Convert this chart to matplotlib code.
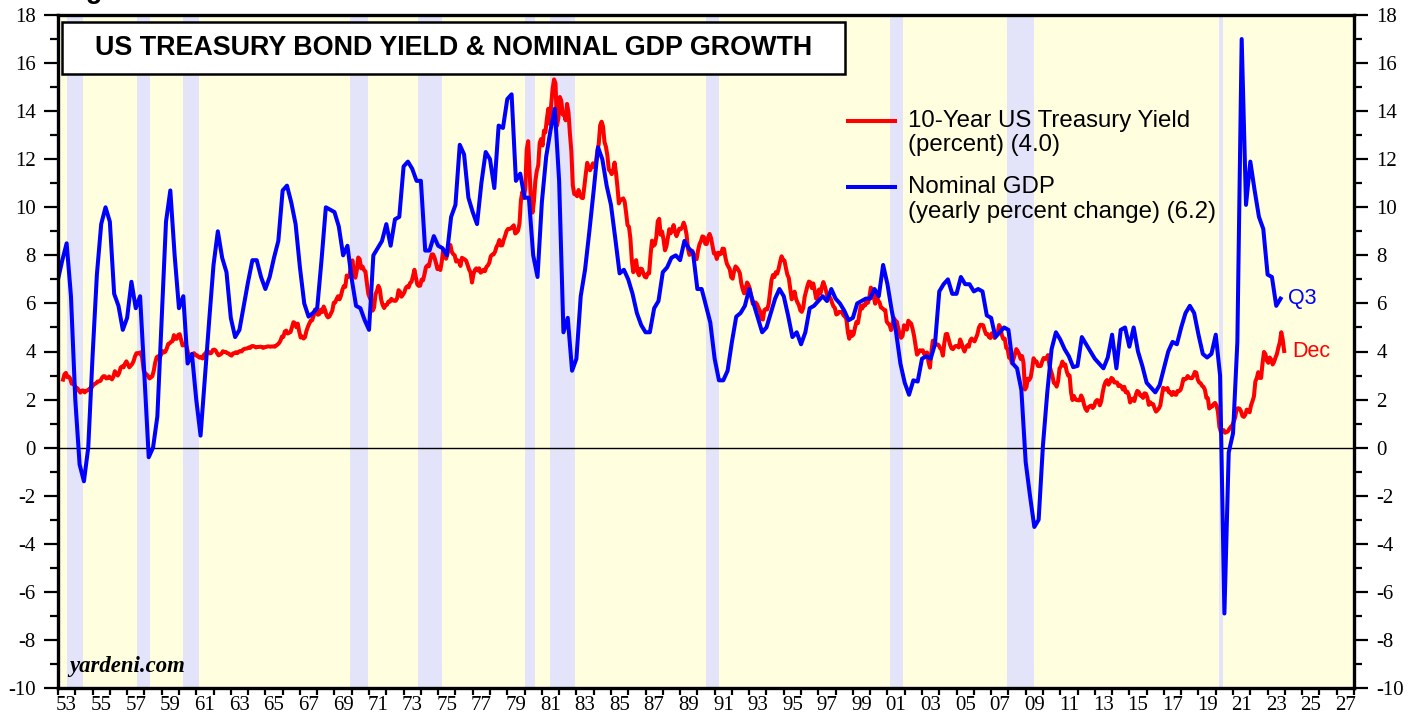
import numpy as np
import matplotlib
matplotlib.use('Agg')
import matplotlib.pyplot as plt
from matplotlib.patches import Rectangle
from matplotlib.ticker import FixedLocator, FixedFormatter

plt.rcParams['axes.unicode_minus'] = False

# ---------------- data ----------------
# Nominal GDP, yearly % change, quarterly; first value = 1952Q4 (plotted at quarter end)
gdp_first_quarter_end = 1953.0
gdp_yoy = [
    7.0,
    7.8, 8.5, 6.3, 2.0,      # 1953
    -0.7, -1.4, 0.0, 3.8,    # 1954
    7.2, 9.3, 10.0, 9.4,     # 1955
    6.4, 5.9, 4.9, 5.4,      # 1956
    6.9, 5.8, 6.3, 3.0,      # 1957
    -0.4, 0.0, 1.3, 5.3,     # 1958
    9.4, 10.7, 8.0, 5.8,     # 1959
    6.3, 3.5, 3.9, 2.0,      # 1960
    0.5, 2.9, 5.3, 7.6,      # 1961
    9.0, 7.9, 7.3, 5.4,      # 1962
    4.6, 4.9, 5.9, 6.9,      # 1963
    7.8, 7.8, 7.1, 6.6,      # 1964
    7.1, 7.9, 8.6, 10.7,     # 1965
    10.9, 10.2, 9.3, 7.5,    # 1966
    6.0, 5.45, 5.6, 5.8,     # 1967
    7.8, 10.0, 9.9, 9.8,     # 1968
    9.2, 8.0, 8.4, 7.0,      # 1969
    5.9, 5.8, 5.3, 4.9,      # 1970
    8.0, 8.3, 8.6, 9.3,      # 1971
    8.4, 9.5, 9.6, 11.7,     # 1972
    11.9, 11.6, 11.1, 11.1,  # 1973
    8.2, 8.2, 8.8, 8.4,      # 1974
    8.3, 8.0, 9.6, 10.1,     # 1975
    12.6, 12.2, 10.4, 9.8,   # 1976
    9.3, 11.0, 12.3, 12.0,   # 1977
    10.8, 13.4, 13.3, 14.5,  # 1978
    14.7, 11.1, 11.4, 10.4,  # 1979
    10.4, 8.0, 7.1, 10.2,    # 1980
    12.1, 13.2, 14.1, 11.1,  # 1981
    4.8, 5.4, 3.2, 3.7,      # 1982
    6.3, 7.4, 9.0, 10.7,     # 1983
    12.5, 12.0, 10.9, 10.1,  # 1984
    8.7, 7.25, 7.4, 7.0,     # 1985
    6.4, 5.6, 5.1, 4.8,      # 1986
    4.8, 5.8, 6.1, 7.3,      # 1987
    7.5, 7.9, 8.0, 7.8,      # 1988
    8.6, 8.3, 8.1, 6.6,      # 1989
    6.6, 5.9, 5.2, 3.7,      # 1990
    2.8, 2.8, 3.2, 4.4,      # 1991
    5.45, 5.6, 5.9, 6.6,     # 1992
    6.0, 5.4, 4.8, 5.0,      # 1993
    5.6, 6.2, 6.6, 6.3,      # 1994
    5.5, 4.6, 4.8, 4.3,      # 1995
    4.8, 5.8, 5.9, 6.1,      # 1996
    6.3, 6.1, 6.6, 6.2,      # 1997
    6.0, 5.7, 5.3, 5.4,      # 1998
    6.0, 6.1, 6.2, 6.2,      # 1999
    6.6, 6.3, 7.6, 6.8,      # 2000
    5.7, 4.8, 3.5, 2.7,      # 2001
    2.2, 2.8, 2.75, 3.7,     # 2002
    3.8, 3.7, 4.3, 6.5,      # 2003
    6.8, 7.0, 6.4, 6.4,      # 2004
    7.1, 6.8, 6.8, 6.5,      # 2005
    6.6, 6.5, 5.5, 5.4,      # 2006
    4.6, 4.8, 5.0, 4.9,      # 2007
    3.5, 3.3, 2.4, -0.6,     # 2008
    -2.0, -3.3, -3.0, 0.1,   # 2009
    2.3, 4.1, 4.8, 4.5,      # 2010
    4.1, 3.8, 3.35, 3.4,     # 2011
    4.6, 4.3, 4.0, 3.7,      # 2012
    3.5, 3.3, 3.75, 4.7,     # 2013
    3.3, 4.9, 5.0, 4.2,      # 2014
    5.0, 4.0, 3.4, 2.7,      # 2015
    2.5, 2.3, 2.6, 3.3,      # 2016
    4.0, 4.4, 4.3, 5.0,      # 2017
    5.6, 5.9, 5.6, 4.7,      # 2018
    3.9, 3.75, 3.9, 4.7,     # 2019
    3.0, -6.9, -0.2, 0.6,    # 2020
    4.4, 17.0, 10.1, 11.9,   # 2021
    10.7, 9.6, 9.1, 7.2,     # 2022
    7.1, 5.9, 6.2,           # 2023
]

# 10-Year US Treasury yield, monthly, from April 1953 to December 2023
yield_first_year, yield_first_month = 1953, 4
yield_10y = [
    2.83, 3.05, 3.11, 2.93, 2.95, 2.87, 2.66, 2.68, 2.59,
    2.48, 2.47, 2.37, 2.29, 2.37, 2.38, 2.30, 2.36, 2.38, 2.43, 2.48, 2.51,
    2.61, 2.65, 2.68, 2.75, 2.76, 2.78, 2.90, 2.97, 2.97, 2.88, 2.89, 2.96,
    2.90, 2.84, 2.96, 3.18, 3.07, 3.00, 3.11, 3.33, 3.38, 3.34, 3.49, 3.59,
    3.46, 3.34, 3.41, 3.48, 3.60, 3.80, 3.93, 3.93, 3.92, 3.97, 3.72, 3.21,
    3.09, 3.05, 2.98, 2.88, 2.92, 2.97, 3.20, 3.54, 3.76, 3.80, 3.74, 3.86,
    4.02, 3.96, 3.99, 4.12, 4.31, 4.34, 4.40, 4.43, 4.68, 4.53, 4.53, 4.69,
    4.72, 4.49, 4.25, 4.28, 4.35, 4.15, 3.90, 3.80, 3.80, 3.89, 3.93, 3.84,
    3.84, 3.78, 3.74, 3.78, 3.71, 3.88, 3.92, 4.04, 3.98, 3.92, 3.94, 4.06,
    4.08, 4.04, 3.93, 3.84, 3.87, 3.91, 4.01, 3.98, 3.98, 3.93, 3.92, 3.86,
    3.83, 3.92, 3.93, 3.97, 3.93, 3.99, 4.02, 4.00, 4.08, 4.11, 4.12, 4.13,
    4.17, 4.15, 4.22, 4.23, 4.20, 4.17, 4.19, 4.19, 4.20, 4.19, 4.15, 4.18,
    4.19, 4.21, 4.21, 4.20, 4.21, 4.21, 4.20, 4.25, 4.29, 4.35, 4.45, 4.62,
    4.61, 4.83, 4.87, 4.75, 4.78, 4.81, 5.02, 5.22, 5.18, 5.01, 5.16, 4.84,
    4.58, 4.63, 4.54, 4.59, 4.85, 5.02, 5.16, 5.28, 5.30, 5.48, 5.75, 5.70,
    5.53, 5.56, 5.74, 5.64, 5.87, 5.72, 5.50, 5.42, 5.46, 5.58, 5.70, 6.03,
    6.04, 6.19, 6.30, 6.17, 6.32, 6.57, 6.72, 6.69, 7.16, 7.10, 7.14, 7.65,
    7.79, 7.24, 7.07, 7.39, 7.91, 7.84, 7.46, 7.53, 7.39, 7.33, 6.84, 6.39,
    6.24, 6.11, 5.70, 5.83, 6.39, 6.52, 6.73, 6.58, 6.14, 5.93, 5.81, 5.93,
    5.95, 6.08, 6.07, 6.19, 6.13, 6.11, 6.11, 6.21, 6.55, 6.48, 6.28, 6.36,
    6.46, 6.64, 6.71, 6.67, 6.85, 6.90, 7.13, 7.40, 7.09, 6.79, 6.73, 6.74,
    6.99, 6.96, 7.21, 7.51, 7.58, 7.54, 7.81, 8.04, 8.04, 7.90, 7.68, 7.43,
    7.50, 7.39, 7.73, 8.23, 8.06, 7.86, 8.06, 8.40, 8.43, 8.14, 8.05, 8.00,
    7.74, 7.79, 7.73, 7.56, 7.90, 7.86, 7.83, 7.77, 7.59, 7.41, 7.29, 6.87,
    7.21, 7.39, 7.46, 7.37, 7.46, 7.28, 7.33, 7.40, 7.34, 7.52, 7.58, 7.69,
    7.96, 8.03, 8.04, 8.15, 8.35, 8.46, 8.64, 8.41, 8.42, 8.64, 8.81, 9.01,
    9.10, 9.10, 9.12, 9.18, 9.25, 8.91, 8.95, 9.03, 9.33, 10.30, 10.65, 10.39,
    10.80, 12.41, 12.75, 11.47, 10.18, 9.78, 10.25, 11.10, 11.51, 11.75, 12.68, 12.84,
    12.57, 13.19, 13.12, 13.68, 14.10, 13.47, 14.28, 14.94, 15.32, 15.15, 13.39, 13.72,
    14.59, 14.43, 13.86, 13.87, 13.62, 14.30, 13.95, 13.06, 12.34, 10.91, 10.55, 10.54,
    10.46, 10.72, 10.51, 10.40, 10.38, 10.85, 11.38, 11.85, 11.65, 11.54, 11.69, 11.83,
    11.67, 11.84, 12.32, 12.63, 13.41, 13.56, 13.36, 12.72, 12.52, 12.16, 11.57, 11.50,
    11.38, 11.51, 11.86, 11.43, 10.85, 10.16, 10.31, 10.33, 10.37, 10.24, 9.78, 9.26,
    9.19, 8.70, 7.78, 7.30, 7.71, 7.80, 7.30, 7.17, 7.45, 7.43, 7.25, 7.11,
    7.08, 7.25, 7.25, 8.02, 8.61, 8.40, 8.45, 8.76, 9.42, 9.52, 8.86, 8.99,
    8.67, 8.21, 8.37, 8.72, 9.09, 8.92, 9.06, 9.26, 8.98, 8.80, 8.96, 9.11,
    9.09, 9.17, 9.36, 9.18, 8.86, 8.28, 8.02, 8.11, 8.19, 8.01, 7.87, 7.84,
    8.21, 8.47, 8.59, 8.79, 8.76, 8.48, 8.47, 8.75, 8.89, 8.72, 8.39, 8.08,
    8.09, 7.85, 8.11, 8.04, 8.07, 8.28, 8.27, 7.90, 7.65, 7.53, 7.42, 7.09,
    7.03, 7.34, 7.54, 7.48, 7.39, 7.26, 6.84, 6.59, 6.42, 6.59, 6.87, 6.77,
    6.60, 6.26, 5.98, 5.97, 6.04, 5.96, 5.81, 5.68, 5.36, 5.33, 5.72, 5.77,
    5.75, 5.97, 6.48, 6.97, 7.18, 7.10, 7.30, 7.24, 7.46, 7.74, 7.96, 7.81,
    7.78, 7.47, 7.20, 7.06, 6.63, 6.17, 6.28, 6.49, 6.20, 6.04, 5.93, 5.71,
    5.65, 5.81, 6.27, 6.51, 6.74, 6.91, 6.87, 6.64, 6.83, 6.53, 6.20, 6.30,
    6.58, 6.42, 6.69, 6.89, 6.71, 6.49, 6.22, 6.30, 6.21, 6.03, 5.88, 5.81,
    5.54, 5.57, 5.65, 5.64, 5.65, 5.50, 5.46, 5.34, 4.81, 4.53, 4.83, 4.65,
    4.72, 5.00, 5.23, 5.18, 5.54, 5.90, 5.79, 5.94, 5.92, 6.11, 6.03, 6.28,
    6.66, 6.52, 6.26, 5.99, 6.44, 6.10, 6.05, 5.83, 5.80, 5.74, 5.72, 5.24,
    5.16, 5.10, 4.89, 5.14, 5.39, 5.28, 5.24, 4.97, 4.73, 4.57, 4.65, 5.09,
    5.04, 4.91, 5.28, 5.21, 5.16, 4.93, 4.65, 4.26, 3.87, 3.94, 4.05, 4.03,
    4.05, 3.90, 3.81, 3.96, 3.57, 3.33, 3.98, 4.45, 4.27, 4.29, 4.30, 4.27,
    4.15, 4.08, 3.83, 4.35, 4.72, 4.73, 4.50, 4.28, 4.13, 4.10, 4.19, 4.23,
    4.22, 4.17, 4.50, 4.34, 4.14, 4.00, 4.18, 4.26, 4.20, 4.46, 4.54, 4.47,
    4.42, 4.57, 4.72, 4.99, 5.11, 5.11, 5.09, 4.88, 4.72, 4.73, 4.60, 4.56,
    4.76, 4.72, 4.56, 4.69, 4.75, 5.10, 5.00, 4.67, 4.52, 4.53, 4.15, 4.10,
    3.74, 3.74, 3.51, 3.68, 3.88, 4.10, 4.01, 3.89, 3.69, 3.81, 3.53, 2.42,
    2.52, 2.87, 2.82, 2.93, 3.29, 3.72, 3.56, 3.59, 3.40, 3.39, 3.40, 3.59,
    3.73, 3.69, 3.73, 3.85, 3.42, 3.20, 3.01, 2.70, 2.65, 2.54, 2.76, 3.29,
    3.39, 3.58, 3.41, 3.46, 3.17, 3.00, 3.00, 2.30, 1.98, 2.15, 2.01, 1.98,
    1.97, 1.97, 2.17, 2.05, 1.80, 1.62, 1.53, 1.68, 1.72, 1.75, 1.65, 1.72,
    1.91, 1.98, 1.96, 1.76, 1.93, 2.30, 2.58, 2.74, 2.81, 2.62, 2.72, 2.90,
    2.86, 2.71, 2.72, 2.71, 2.56, 2.60, 2.54, 2.42, 2.53, 2.30, 2.33, 2.21,
    1.88, 1.98, 2.04, 1.94, 2.20, 2.36, 2.32, 2.17, 2.17, 2.07, 2.26, 2.24,
    2.09, 1.78, 1.89, 1.81, 1.81, 1.64, 1.50, 1.56, 1.63, 1.76, 2.14, 2.49,
    2.43, 2.42, 2.48, 2.30, 2.30, 2.19, 2.32, 2.21, 2.20, 2.36, 2.35, 2.40,
    2.58, 2.86, 2.84, 2.87, 2.98, 2.91, 2.89, 2.89, 3.00, 3.15, 3.12, 2.83,
    2.71, 2.68, 2.57, 2.53, 2.40, 2.07, 2.06, 1.63, 1.70, 1.71, 1.81, 1.86,
    1.76, 1.50, 0.87, 0.66, 0.67, 0.73, 0.62, 0.65, 0.68, 0.79, 0.87, 0.93,
    1.08, 1.26, 1.61, 1.64, 1.62, 1.52, 1.32, 1.28, 1.37, 1.58, 1.56, 1.47,
    1.76, 1.93, 2.13, 2.75, 2.90, 3.14, 2.90, 2.90, 3.52, 3.98, 3.89, 3.62,
    3.53, 3.75, 3.66, 3.46, 3.57, 3.75, 3.90, 4.17, 4.38, 4.80, 4.50, 4.02,
]

# Recessions (start, end) in decimal years
recessions = [
    (1953.50, 1954.42), (1957.58, 1958.33), (1960.25, 1961.17),
    (1969.92, 1970.92), (1973.83, 1975.25), (1980.00, 1980.58),
    (1981.50, 1982.92), (1990.50, 1991.25), (2001.17, 2001.92),
    (2007.92, 2009.50), (2020.20, 2020.40),
]

title = "US TREASURY BOND YIELD & NOMINAL GDP GROWTH"
legend_yield = ["10-Year US Treasury Yield", "(percent) (4.0)"]
legend_gdp = ["Nominal GDP", "(yearly percent change) (6.2)"]
end_label_gdp = "Q3"
end_label_yield = "Dec"
y_ticks = list(range(-10, 19, 2))
x_label_years = list(range(1953, 2028, 2))

# ---------------- figure ----------------
SANS = ['Liberation Sans', 'DejaVu Sans']
SERIF = ['Liberation Serif', 'DejaVu Serif']
RED = '#FF0000'
BLUE = '#0000FF'

W, H = 1419, 719
fig = plt.figure(figsize=(W / 100, H / 100), dpi=100)
fig.patch.set_facecolor('white')
ax = fig.add_axes([58 / W, 1 - 688 / H, (1354 - 58) / W, (688 - 15) / H])
ax.set_facecolor('#FFFFE0')

for s, e in recessions:
    ax.axvspan(s, e, color='#E3E3F9', lw=0, zorder=0)
ax.axhline(0, color='black', lw=1.0, zorder=1)

xq = gdp_first_quarter_end + 0.25 * np.arange(len(gdp_yoy))
xm = yield_first_year + (yield_first_month - 1 + np.arange(len(yield_10y)) + 0.5) / 12.0

ax.plot(xm, yield_10y, color=RED, lw=2.9, zorder=3, solid_joinstyle='round')
ax.plot(xq, gdp_yoy, color=BLUE, lw=2.9, zorder=4, solid_joinstyle='round')

ax.set_xlim(1953, 2028)
ax.set_ylim(-10, 18)

# y ticks
ax.yaxis.set_major_locator(FixedLocator(y_ticks))
ax.yaxis.set_major_formatter(FixedFormatter([str(v) for v in y_ticks]))
ax.yaxis.set_minor_locator(FixedLocator([v + 1 for v in y_ticks[:-1]]))
ax.tick_params(axis='y', which='major', direction='out', length=10, width=1.6,
               left=True, right=True, labelleft=True, labelright=True, pad=6,
               labelsize=15)
ax.tick_params(axis='y', which='minor', direction='out', length=5.5, width=1.6,
               left=True, right=True)
for lab in ax.get_yticklabels():
    lab.set_fontfamily(SERIF)

# x ticks: marks at year boundaries, labels centred on odd years
ax.xaxis.set_major_locator(FixedLocator(list(range(1953, 2029))))
ax.xaxis.set_major_formatter(FixedFormatter([''] * 76))
ax.xaxis.set_minor_locator(FixedLocator([y + 0.5 for y in x_label_years]))
ax.xaxis.set_minor_formatter(FixedFormatter(['%02d' % (y % 100) for y in x_label_years]))
ax.tick_params(axis='x', which='major', direction='out', length=5, width=1.6)
ax.tick_params(axis='x', which='minor', length=0, pad=6, labelsize=15)
for lab in ax.xaxis.get_minorticklabels():
    lab.set_fontfamily(SERIF)

for sp in ax.spines.values():
    sp.set_linewidth(2.4)
    sp.set_zorder(10)

# title box
ax.add_patch(Rectangle((0.0031, 0.9123), 0.604, 0.0773, transform=ax.transAxes,
                       facecolor='white', edgecolor='black', lw=1.8, zorder=8))
ax.text(0.305, 0.951, title, transform=ax.transAxes, ha='center', va='center',
        fontsize=19.4, fontweight='bold', family=SANS, zorder=9)

# legend
ax.plot([0.6096, 0.6458], [0.8425, 0.8425], transform=ax.transAxes, color=RED, lw=2.9, zorder=9)
ax.plot([0.6096, 0.6458], [0.7444, 0.7444], transform=ax.transAxes, color=BLUE, lw=2.9, zorder=9)
LFS = 17.3
ax.text(0.6559, 0.8425, legend_yield[0], transform=ax.transAxes, ha='left', va='center',
        fontsize=LFS, family=SANS, zorder=9)
ax.text(0.6559, 0.8068, legend_yield[1], transform=ax.transAxes, ha='left', va='center',
        fontsize=LFS, family=SANS, zorder=9)
ax.text(0.6559, 0.7444, legend_gdp[0], transform=ax.transAxes, ha='left', va='center',
        fontsize=LFS, family=SANS, zorder=9)
ax.text(0.6559, 0.7073, legend_gdp[1], transform=ax.transAxes, ha='left', va='center',
        fontsize=LFS, family=SANS, zorder=9)

# end labels
ax.annotate(end_label_gdp, (xq[-1], gdp_yoy[-1]), xytext=(5, 0), textcoords='offset points',
            ha='left', va='center', color=BLUE, fontsize=15.5, family=SANS, zorder=9)
ax.annotate(end_label_yield, (xm[-1], yield_10y[-1]), xytext=(5.5, 0), textcoords='offset points',
            ha='left', va='center', color=RED, fontsize=15.5, family=SANS, zorder=9)

# watermark
ax.text(0.009, 0.016, 'yardeni.com', transform=ax.transAxes, ha='left', va='bottom',
        fontsize=16.4, fontweight='bold', fontstyle='italic', family=SERIF, zorder=9)

# clipped figure caption at very top
fig.text(62 / W, 1 + 2 / H, 'Figure 1.', ha='left', va='baseline', fontsize=19.4,
         fontweight='bold', family=SANS)

fig.savefig('out.png', dpi=100)
